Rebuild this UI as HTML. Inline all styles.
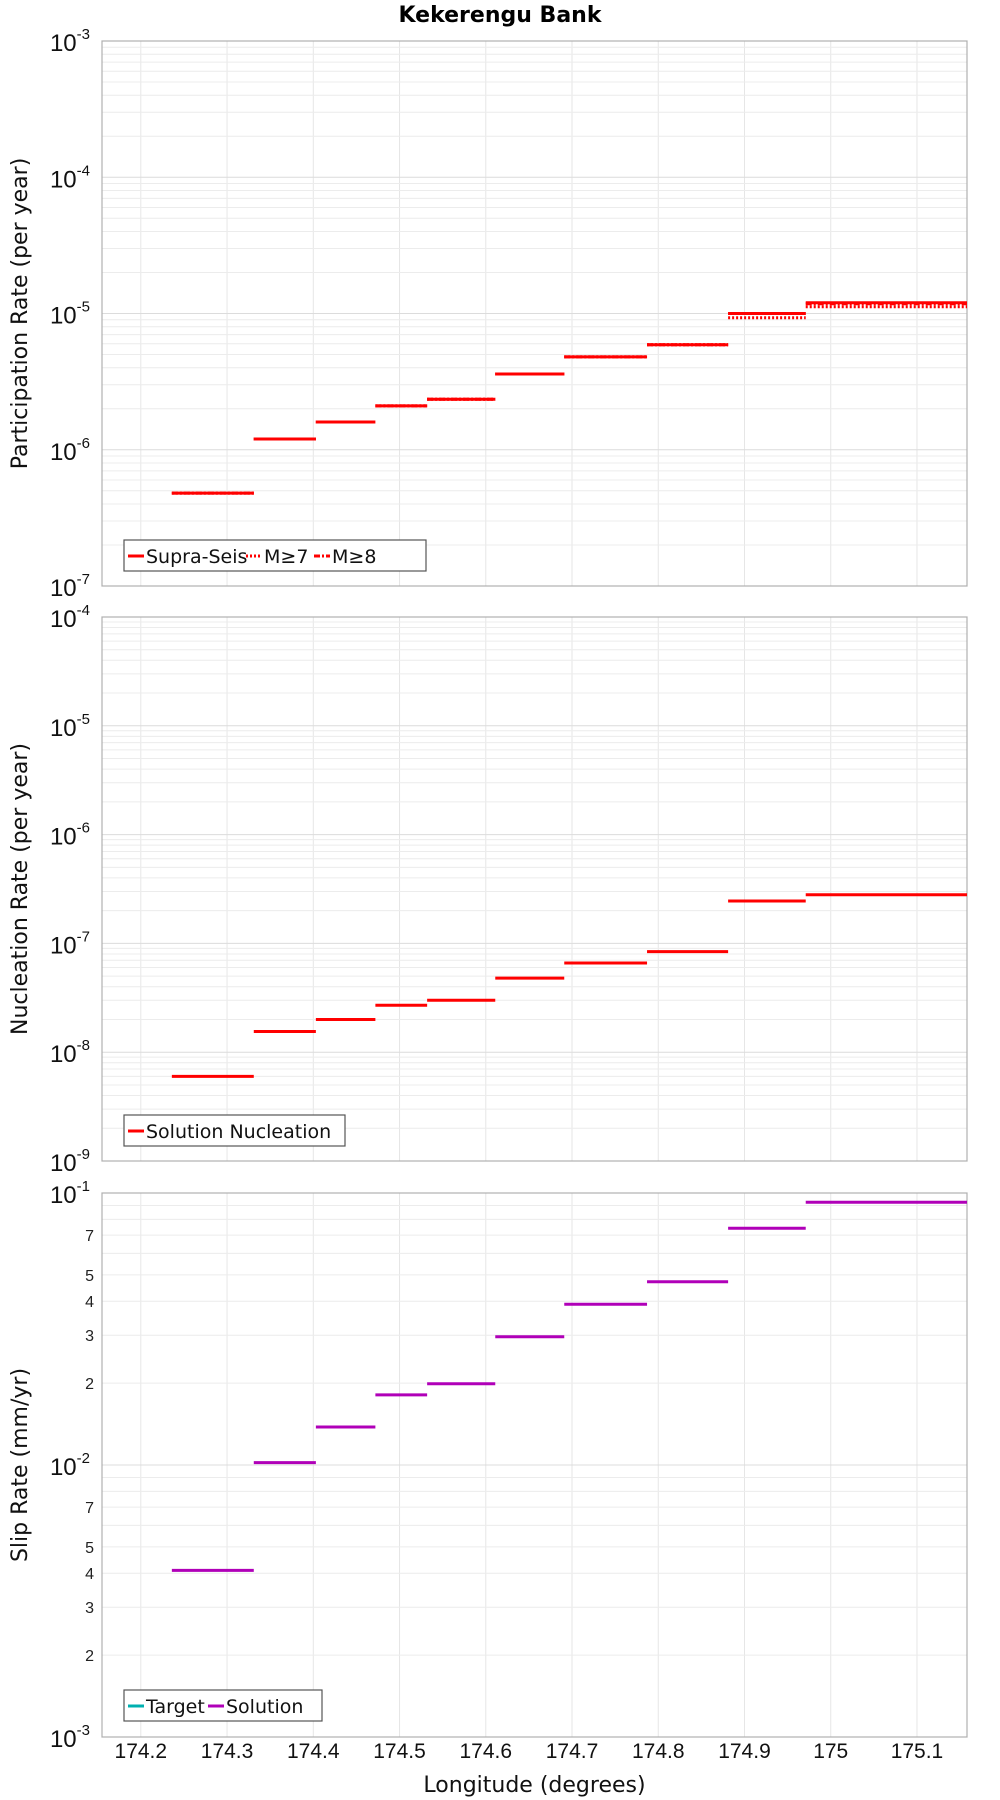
<!DOCTYPE html>
<html><head><meta charset="utf-8"><style>
html,body{margin:0;padding:0;background:#fff}
svg{display:block;font-family:"Liberation Sans","DejaVu Sans",sans-serif}
</style></head><body>
<svg id="chart" width="1000" height="1800" viewBox="0 0 1000 1800" xmlns="http://www.w3.org/2000/svg">
<text x="500" y="22" text-anchor="middle" font-size="22" font-weight="bold" font-family="DejaVu Sans, sans-serif">Kekerengu Bank</text>
<g id="g"></g>
</svg>
<script>
const segStart = [174.236,174.331,174.403,174.472,174.532,174.611,174.691,174.787,174.881,174.971];
const segEnd   = [174.331,174.403,174.472,174.532,174.611,174.691,174.787,174.881,174.971,175.158];
const partSupra = [4.8e-7,1.2e-6,1.6e-6,2.1e-6,2.35e-6,3.6e-6,4.8e-6,5.9e-6,1.0e-5,1.2e-5];
const partM7    = [4.8e-7,1.2e-6,1.6e-6,2.1e-6,2.35e-6,3.6e-6,4.8e-6,5.9e-6,9.3e-6,1.12e-5];
const partM8    = [4.8e-7,1.2e-6,1.6e-6,2.1e-6,2.35e-6,3.6e-6,4.8e-6,5.9e-6,1.0e-5,1.18e-5];
const nucl      = [6e-9,1.55e-8,2e-8,2.7e-8,3e-8,4.8e-8,6.6e-8,8.4e-8,2.45e-7,2.8e-7];
const slip      = [0.0041,0.0102,0.0138,0.0181,0.0199,0.0296,0.0390,0.0472,0.0742,0.0925];
const xTicks = [174.2,174.3,174.4,174.5,174.6,174.7,174.8,174.9,175,175.1];
const xTickLabels = ["174.2","174.3","174.4","174.5","174.6","174.7","174.8","174.9","175","175.1"];

const NS="http://www.w3.org/2000/svg";
const G=document.getElementById('g');
const L=102,R=967,XMIN=174.155,XMAX=175.158;
const xs=v=>L+(v-XMIN)/(XMAX-XMIN)*(R-L);
function mk(tag,attrs,parent){const e=document.createElementNS(NS,tag);for(const k in attrs)e.setAttribute(k,attrs[k]);(parent||G).appendChild(e);return e;}

function panel(top,bot,eMin,eMax,title,minorLabels,name){
  const ys=v=>bot-(Math.log10(v)-eMin)/(eMax-eMin)*(bot-top);
  const pg=mk('g',{});
  
  
  // grid
  for(const t of xTicks){const l=mk('line',{x1:xs(t),x2:xs(t),y1:top,y2:bot,stroke:'#e6e6e6','stroke-width':1},pg);
    
    }
  for(let e=eMin;e<eMax;e++){for(let m=1;m<10;m++){const v=m*Math.pow(10,e);const y=ys(v);
    const l=mk('line',{x1:L,x2:R,y1:y,y2:y,stroke:m==1?'#dcdcdc':'#ececec','stroke-width':1},pg);
    
    
    if(minorLabels&&[2,3,4,5,7].includes(m)){const t=mk('text',{x:L-8,y:y+6,'text-anchor':'end','font-size':16,fill:'#222'},pg);t.textContent=m;
      
      }
  }}
  for(let e=eMin;e<=eMax;e++){const y=ys(Math.pow(10,e));
    const t=mk('text',{x:L-12,y:y+10,'text-anchor':'end','font-size':24,fill:'#111'},pg);
    
    
    t.appendChild(document.createTextNode('10'));
    const s=mk('tspan',{dy:-12,'font-size':15},t);s.textContent=String(e);
  }
  const fr=mk('rect',{x:L,y:top,width:R-L,height:bot-top,fill:'none',stroke:'#b0b0b0','stroke-width':1.2},pg);
  
  
  const cy=(top+bot)/2;
  const at=mk('text',{x:0,y:0,transform:`translate(27,${cy}) rotate(-90)`,'text-anchor':'middle','font-size':22,fill:'#111','font-family':'DejaVu Sans, sans-serif'},pg);
  at.textContent=title;
  
  
  return {ys,pg};
}
function series(p,vals,color,dash,name,w){
  for(let i=0;i<vals.length;i++){const y=p.ys(vals[i]);
    const a={x1:xs(segStart[i]),x2:xs(segEnd[i]),y1:y,y2:y,stroke:color,'stroke-width':w||3};
    if(dash)a['stroke-dasharray']=dash;
    const l=mk('line',a,p.pg);
    
    }
}
function legend(p,x,y,w,items){
  const lg=mk('g',{},p.pg);
  
  
  mk('rect',{x:x,y:y,width:w,height:31,fill:'#fff',stroke:'#555','stroke-width':1.2},lg);
  let cx=x+4;
  for(const it of items){
    const a={x1:cx,x2:cx+16,y1:y+16,y2:y+16,stroke:it.c,'stroke-width':3};if(it.d)a['stroke-dasharray']=it.d;
    const l=mk('line',a,lg);
    
    
    const t=mk('text',{x:cx+18,y:y+23,'font-size':19,fill:'#111','font-family':'DejaVu Sans, sans-serif'},lg);t.textContent=it.t;
    
    
    cx+=18+it.w;
  }
}
const p1=panel(41,586,-7,-3,'Participation Rate (per year)',false,'participation');
series(p1,partSupra,'#f00',null,'supra-seis');
series(p1,partM7,'#f00','2,2','m7');
series(p1,partM8,'#f00','6,2,2,2','m8');
legend(p1,124,540,302,[{t:'Supra-Seis',c:'#f00',w:100},{t:'M≥7',c:'#f00',d:'2,2',w:50},{t:'M≥8',c:'#f00',d:'6,2,2,2',w:50}]);

const p2=panel(617,1161,-9,-4,'Nucleation Rate (per year)',false,'nucleation');
series(p2,nucl,'#f00',null,'solution-nucleation');
legend(p2,124,1115,221,[{t:'Solution Nucleation',c:'#f00',w:200}]);

const p3=panel(1193,1737,-3,-1,'Slip Rate (mm/yr)',true,'slip-rate');
series(p3,slip,'#b000b8',null,'slip-solution');
legend(p3,124,1690,198,[{t:'Target',c:'#00b0b0',w:62},{t:'Solution',c:'#b000b8',w:90}]);

for(let i=0;i<xTicks.length;i++){
  const t=mk('text',{x:xs(xTicks[i]),y:1758,'text-anchor':'middle','font-size':21,fill:'#111'});
  t.textContent=xTickLabels[i];
  
  
}
const xt=mk('text',{x:(L+R)/2,y:1792,'text-anchor':'middle','font-size':22,fill:'#111','font-family':'DejaVu Sans, sans-serif'});
xt.textContent='Longitude (degrees)';


</script>
</body></html>
